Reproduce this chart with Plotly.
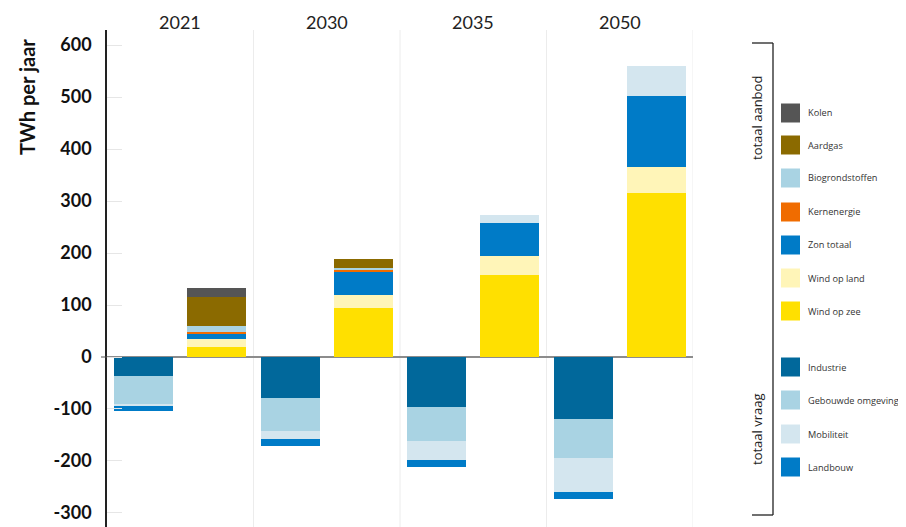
import plotly.graph_objects as go

# ---------------- data ----------------
years = ["2021", "2030", "2035", "2050"]

# supply (totaal aanbod), TWh per jaar
wind_op_zee = [19, 95, 158, 316]
wind_op_land = [15, 25, 36, 50]
zon_totaal = [10, 44, 64, 136]
kernenergie = [5, 4, 0, 0]
biogrondstoffen = [11, 4, 16, 58]
aardgas = [56, 17, 0, 0]
kolen = [16, 0, 0, 0]

# demand (totaal vraag), TWh per jaar
industrie = [-36, -78, -96, -120]
gebouwde_omgeving = [-56, -64, -65, -74]
mobiliteit = [-2, -16, -37, -65]
landbouw = [-10, -13, -14, -14]

y_ticks = [600, 500, 400, 300, 200, 100, 0, -100, -200, -300]

# ---------------- styles ----------------
C = {
    "Kolen": "#555555",
    "Aardgas": "#8b6a00",
    "Biogrondstoffen": "#a9d3e3",
    "Kernenergie": "#f06c00",
    "Zon totaal": "#007bc7",
    "Wind op land": "#fff5b8",
    "Wind op zee": "#ffe000",
    "Industrie": "#01689b",
    "Gebouwde omgeving": "#a9d3e3",
    "Mobiliteit": "#d4e6ef",
    "Landbouw": "#007bc7",
}
bio_point_colors = ["#a9d3e3", "#a9d3e3", "#d4e6ef", "#d4e6ef"]

supply = [
    ("Wind op zee", wind_op_zee),
    ("Wind op land", wind_op_land),
    ("Zon totaal", zon_totaal),
    ("Kernenergie", kernenergie),
    ("Biogrondstoffen", biogrondstoffen),
    ("Aardgas", aardgas),
    ("Kolen", kolen),
]
demand = [
    ("Industrie", industrie),
    ("Gebouwde omgeving", gebouwde_omgeving),
    ("Mobiliteit", mobiliteit),
    ("Landbouw", landbouw),
]

idx = list(range(len(years)))
x_dem = [i - 0.25 for i in idx]
x_sup = [i + 0.25 for i in idx]
BW = 0.404

fig = go.Figure()
for name, vals in demand:
    fig.add_trace(go.Bar(x=x_dem, y=vals, name=name, width=BW,
                         marker=dict(color=C[name], line=dict(width=0)),
                         showlegend=False))
for name, vals in supply:
    col = bio_point_colors if name == "Biogrondstoffen" else C[name]
    fig.add_trace(go.Bar(x=x_sup, y=vals, name=name, width=BW,
                         marker=dict(color=col, line=dict(width=0)),
                         showlegend=False))

# page body has an 8px margin: lay out in screen pixels, then offset
OFF = 8
SW, SH = 906, 527
W, H = SW - OFF, SH - OFF
ML, MT = 107 - OFF, 30 - OFF
MR, MB = SW - 693, 0
PW, PH = W - ML - MR, H - MT - MB


def px(xs):
    return (xs - OFF - ML) / PW


def py(ys):
    return (H - MB - (ys - OFF)) / PH


shapes = []
annotations = []

# vertical group separators
for i in idx:
    shapes.append(dict(type="line", xref="x", yref="paper", x0=i + 0.5, x1=i + 0.5,
                       y0=0, y1=1, line=dict(color="#ececec", width=1), layer="below"))

# zero tick outside the axis
shapes.append(dict(type="line", xref="paper", yref="y", x0=px(101), x1=px(107),
                   y0=0, y1=0, line=dict(color="#555", width=1)))

# year labels
for i, yr in zip(idx, years):
    annotations.append(dict(x=i, xref="x", y=py(22), yref="paper", text=yr,
                            showarrow=False, xanchor="center", yanchor="middle",
                            font=dict(family="Lato", size=18, color="#222")))

# y title
annotations.append(dict(x=px(27), xref="paper", y=py(97), yref="paper",
                        text="<b>TWh per jaar</b>", textangle=-90, showarrow=False,
                        xanchor="center", yanchor="middle",
                        font=dict(family="Lato", size=20, color="#111")))

# bracket
bx = 773
for (xa, ya, xb, yb) in [(bx, 43, bx, 515), (752, 43, bx, 43), (752, 515, bx, 515)]:
    shapes.append(dict(type="line", xref="paper", yref="paper",
                       x0=px(xa), y0=py(ya), x1=px(xb), y1=py(yb),
                       line=dict(color="#222", width=1.3)))
annotations.append(dict(x=px(757), xref="paper", y=py(118), yref="paper",
                        text="totaal aanbod", textangle=-90, showarrow=False,
                        xanchor="center", yanchor="middle",
                        font=dict(family="Open Sans", size=13, color="#222")))
annotations.append(dict(x=px(757), xref="paper", y=py(429), yref="paper",
                        text="totaal vraag", textangle=-90, showarrow=False,
                        xanchor="center", yanchor="middle",
                        font=dict(family="Open Sans", size=13, color="#222")))

# legend swatches
legend_items = [
    ("Kolen", 113), ("Aardgas", 145), ("Biogrondstoffen", 178), ("Kernenergie", 212),
    ("Zon totaal", 245), ("Wind op land", 278), ("Wind op zee", 311),
    ("Industrie", 367), ("Gebouwde omgeving", 400), ("Mobiliteit", 434), ("Landbouw", 467),
]
for name, cy in legend_items:
    shapes.append(dict(type="rect", xref="paper", yref="paper",
                       x0=px(781), x1=px(800), y0=py(cy + 9.5), y1=py(cy - 9.5),
                       fillcolor=C[name], line=dict(width=0)))
    annotations.append(dict(x=px(806), xref="paper", y=py(cy), yref="paper",
                            text=name, showarrow=False, xanchor="left", yanchor="middle",
                            font=dict(family="Open Sans", size=9.2, color="#333")))

fig.update_layout(
    width=W, height=H,
    margin=dict(l=ML, r=MR, t=MT, b=MB, autoexpand=False),
    plot_bgcolor="white", paper_bgcolor="white",
    barmode="relative", bargap=0,
    shapes=shapes, annotations=annotations,
    xaxis=dict(range=[-0.5, 3.5], showgrid=False, zeroline=False,
               showticklabels=False, ticks="", showline=False, fixedrange=True),
    yaxis=dict(range=[-327, 629], tickvals=y_ticks, ticktext=[str(v) for v in y_ticks],
               showgrid=False, zeroline=True, zerolinecolor="#8c8c8c", zerolinewidth=2,
               showline=True, linecolor="#222", linewidth=1.5,
               ticks="inside", ticklen=15, tickcolor="#e6e6e6", tickwidth=1,
               ticklabelstandoff=10,
               tickfont=dict(family="Lato", size=18, color="#111", weight="bold")),
)

fig.write_html("out.html")
